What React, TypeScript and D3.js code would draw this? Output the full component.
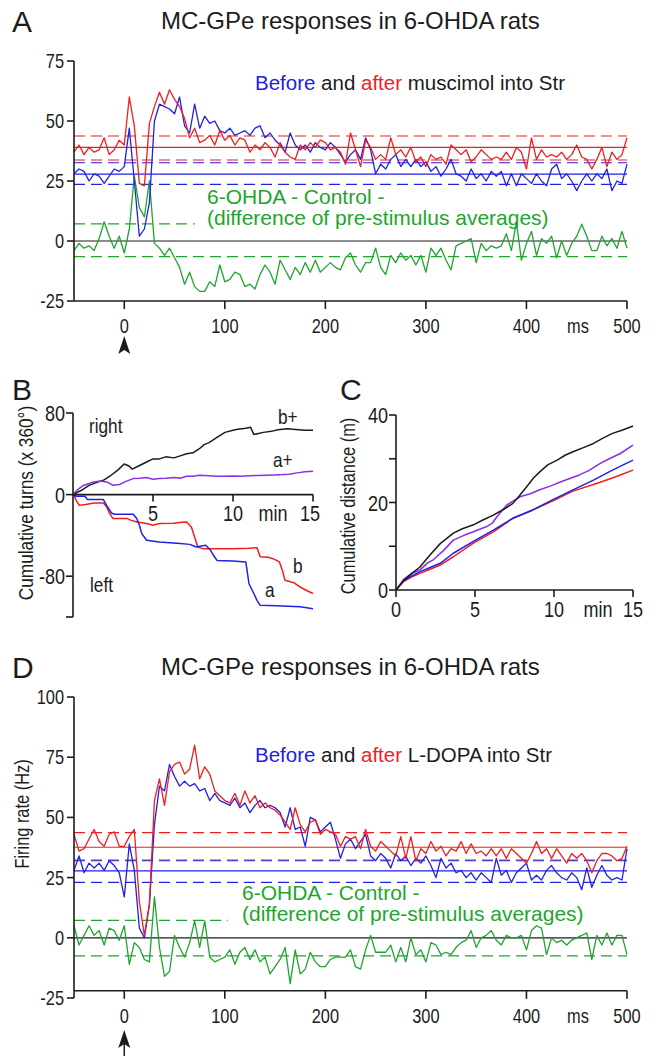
import React from "react";
import * as d3 from "d3";

const SANS = "'Liberation Sans',Arial,Helvetica,sans-serif";
const NARROW_X = 0.82; // Liberation Sans squeezed to a narrow face
const RED = "#f21d1d";
const BLUE = "#2020e6";
const GREEN = "#1ea52e";
const PURPLE = "#8a2fe6";
const INK = "#1c1c1c";

// PSTH bins: first bin at -50 ms, 5 ms wide
const T0 = -50;
const DT = 5;

// Panel A: before (blue) / after (red) muscimol, and difference (green)
const aRed = [
  37, 40, 36, 39, 37, 38, 43, 36, 38, 42,
  40, 60, 48, 24, 23, 49, 56, 62, 57, 63,
  59, 56, 51, 43, 47, 41, 42, 44, 40, 46,
  42, 44, 40, 43, 42, 37, 40, 38, 41, 39,
  35, 41, 37, 35, 34, 40, 38, 41, 39, 42,
  41, 38, 39, 37, 32, 45, 38, 31, 42, 39,
  34, 36, 34, 43, 36, 38, 35, 39, 33, 35,
  31, 36, 34, 35, 32, 40, 38, 36, 38, 33,
  35, 38, 36, 34, 35, 34, 37, 34, 39, 37,
  30, 43, 34, 38, 35, 36, 35, 37, 34, 36,
  40, 35, 34, 30, 34, 39, 31, 37, 34, 36, 43,
];
const aBlue = [
  28, 30, 29, 25, 28, 27, 24, 27, 30, 29,
  31, 47, 25, 2, 5, 16, 50, 57, 56, 55,
  53, 60, 48, 45, 57, 47, 52, 49, 50, 46,
  45, 47, 44, 45, 46, 44, 47, 48, 43, 45,
  42, 40, 37, 45, 40, 38, 40, 37, 41, 39,
  38, 41, 39, 36, 33, 36, 38, 34, 43, 38,
  28, 32, 30, 34, 36, 31, 34, 31, 34, 31,
  33, 29, 31, 27, 30, 34, 28, 27, 25, 30,
  26, 28, 25, 29, 27, 29, 23, 28, 23, 28,
  26, 24, 28, 25, 23, 30, 32, 26, 28, 25,
  21, 25, 28, 25, 28, 26, 30, 21, 25, 24, 32,
];
const aGreen = [
  -4, -1, -3, -2, -4, 1, 8, 2, -3, 2,
  -5, 5, 27, 14, 10, 25, -1, -3, -6, -3,
  -7, -11, -18, -13, -19, -21, -21, -17, -19, -10,
  -17, -16, -13, -14, -19, -18, -20, -14, -10, -13,
  -18, -8, -12, -16, -11, -14, -9, -13, -8, -13,
  -11, -9, -11, -12, -7, -5, -10, -13, -9, -9,
  -3, -11, -14, -6, -9, -5, -8, -6, -10, -6,
  -13, -3, -6, -3, -8, -12, -2, -1, 0, 1,
  -9, -1, -4, -2, -3, -2, 3, -4, 8, -8,
  -1, 4, -6, 1, -1, 2, -7, 0, -6, -1,
  2, 7, 2, -4, -4, 2, -2, 1, -3, 4, -3,
];
// [mean, upper, lower] pre-stimulus levels
const aRedLevels = [39, 43.75, 33.75];
const aBlueLevels = [27.9, 32.6, 23.6];
const aGreenLevels = [7.1, -6.5];

// Panel D: before (blue) / after (red) L-DOPA, and difference (green)
const dRed = [
  43, 36, 37, 41, 45, 40, 38, 43, 44, 38,
  38, 42, 45, 15, 1, 14, 57, 66, 55, 69,
  72, 73, 68, 70, 80, 66, 71, 68, 61, 59,
  57, 56, 60, 55, 61, 56, 59, 54, 56, 54,
  53, 51, 48, 45, 54, 47, 44, 48, 49, 43,
  45, 44, 43, 38, 42, 41, 42, 37, 45, 38,
  36, 40, 38, 36, 34, 42, 33, 42, 32, 37,
  35, 40, 36, 38, 34, 37, 36, 40, 35, 39,
  35, 36, 34, 37, 34, 37, 33, 37, 35, 33,
  31, 35, 40, 35, 37, 33, 37, 34, 31, 35,
  33, 35, 32, 27, 32, 35, 35, 34, 32, 33, 38,
];
const dBlue = [
  28, 34, 27, 31, 29, 31, 28, 32, 30, 27,
  17, 39, 28, 4, 0, 14, 47, 63, 61, 72,
  67, 63, 65, 63, 64, 61, 62, 57, 60, 57,
  56, 55, 58, 54, 56, 52, 55, 57, 54, 55,
  54, 52, 46, 54, 45, 46, 38, 50, 49, 44,
  46, 48, 41, 33, 39, 41, 37, 40, 43, 34,
  32, 35, 33, 29, 35, 32, 34, 30, 33, 31,
  34, 30, 25, 33, 29, 31, 27, 28, 25, 27,
  24, 27, 25, 23, 33, 26, 28, 23, 27, 29,
  31, 24, 26, 24, 28, 30, 27, 25, 24, 27,
  25, 20, 29, 21, 26, 30, 26, 24, 25, 24, 37,
];
const dGreen = [
  5, -3, 1, 5, 1, 3, -3, 4, 3, -1,
  5, -11, -2, -4, -9, -10, 17, -4, -16, -14,
  1, -4, -8, -2, 7, -4, 7, -8, -10, -9,
  -8, -5, -11, -6, -4, -9, -5, -10, -8, -15,
  -12, -9, -4, -19, -5, -15, -13, -6, -10, -12,
  -12, -9, -8, -8, -8, -5, -12, -13, -5, 1,
  -6, -6, -6, -3, -10, -4, -10, 0, -7, -5,
  -10, -2, -3, -7, -6, -7, -4, -2, -1, 3,
  -4, 0, 1, 3, -1, -3, 1, 0, 0, 1,
  -5, 3, 5, 4, -7, 0, -2, -1, -3, -1,
  0, 1, 2, -9, 1, -3, 2, -3, 1, 1, -7,
];
const dRedLevels = [37.6, 43.7, 32.3];
const dBlueLevels = [27.8, 32, 23];
const dGreenLevels = [7.2, -7.5];

const msTicks = [0, 100, 200, 300, 400, 500];
const aYTicks = [75, 50, 25, 0, -25];
const dYTicks = [100, 75, 50, 25, 0, -25];

// Panel B: cumulative turns [min, turns]
const turnsBPlus: [number, number][] = [
  [0, 0], [0.5, 4], [1, 9], [1.5, 12], [1.9, 14], [2.3, 18], [2.8, 24], [3.2, 30], [3.5, 28],
  [3.7, 25], [4.1, 28], [4.6, 32], [5, 35], [5.4, 35], [5.8, 37], [6.3, 36], [6.7, 38], [7.1, 40],
  [7.5, 41], [7.9, 45], [8.2, 49], [8.5, 51], [9, 56], [9.5, 61], [10, 63], [10.3, 64], [10.8, 65],
  [11.1, 66], [11.3, 59], [11.6, 60], [11.9, 61], [12.4, 62], [12.8, 63.5], [13.4, 64.5], [14.1, 63.5],
  [14.5, 63], [15, 63],
];
const turnsAPlus: [number, number][] = [
  [0, 0], [0.3, 5], [0.65, 9], [1.2, 12], [1.7, 13.4], [2.1, 12.4], [2.5, 9.2], [2.9, 9.8], [3.3, 13],
  [3.77, 15.7], [4.2, 16], [4.6, 16.7], [5, 15], [5.4, 15.7], [5.8, 16], [6.3, 16.7], [6.7, 16],
  [7.1, 18], [7.5, 18], [7.9, 19], [8.5, 18.5], [9, 18], [9.5, 18], [10, 18.3], [10.5, 18], [11, 18.6],
  [11.6, 18.7], [12.1, 19], [12.6, 19.3], [13.1, 19.6], [13.5, 20], [14, 21.3], [14.5, 22.5], [15, 23],
];
const turnsB: [number, number][] = [
  [0, 0], [0.1, -2], [0.2, -5.6], [0.4, -10.5], [0.8, -9.8], [1.3, -8.2], [1.9, -8.2], [2.1, -12],
  [2.3, -18.6], [2.5, -23.5], [3.4, -23.5], [3.6, -25], [4, -26.8], [4.6, -28.4], [5, -30], [5.4, -28.4],
  [6.3, -28], [6.8, -27], [7.1, -26.8], [7.4, -31.7], [7.6, -41.5], [7.8, -51.4], [8.1, -53], [9, -53],
  [10, -53], [11, -52.5], [11.5, -52], [11.7, -61], [12.2, -61.5], [12.5, -62.8], [12.9, -66], [13.1, -75],
  [13.25, -84], [13.8, -86.4], [14.2, -90.6], [14.6, -94], [15, -97],
];
const turnsA: [number, number][] = [
  [0, 0], [0.2, -1.6], [0.75, -1.6], [0.9, -4.9], [1.9, -4.9], [2.1, -10.5], [2.4, -18], [2.6, -19.3],
  [3.77, -19.3], [3.98, -23.5], [4.15, -30], [4.3, -38.3], [4.6, -44.8], [5.4, -46.4], [6.7, -48],
  [7.3, -48.8], [7.7, -51.4], [8.3, -49.7], [8.6, -54.6], [8.8, -60], [9, -64.5], [10, -65], [10.8, -66],
  [11, -87.4], [11.3, -97], [11.5, -103.7], [11.7, -108.6], [12.7, -109], [14.2, -110], [15, -112],
];

// Panel C: cumulative distance [min, m]
const distBPlus: [number, number][] = [
  [0, 0], [0.5, 2.2], [1, 3.8], [1.5, 5.2], [2.15, 8], [2.8, 10.6], [3.63, 13], [4.2, 14], [4.9, 14.9],
  [5.5, 16], [6.16, 17.1], [6.8, 18.4], [7.4, 19.8], [7.8, 21.5], [8.27, 23.6], [8.7, 25.6], [9.1, 27],
  [9.6, 28.6], [10.2, 29.7], [10.7, 30.8], [11.2, 31.6], [11.9, 32.6], [12.5, 33.5], [13.1, 34.7],
  [13.7, 35.8], [14.3, 36.5], [15, 37.5],
];
const distAPlus: [number, number][] = [
  [0, 0], [0.5, 2.5], [1, 3.8], [1.52, 4.6], [2, 6.2], [2.36, 6.9], [3, 9], [3.63, 11.4], [4.3, 12.5],
  [4.9, 13.3], [5.74, 14.5], [6.1, 15.3], [6.4, 16.8], [7, 19.4], [7.4, 20.3], [7.85, 21.3], [8.5, 22],
  [9.1, 22.9], [9.8, 23.8], [10.4, 24.7], [11, 25.5], [11.6, 26.3], [12.2, 27.3], [12.9, 28.9], [13.5, 30],
  [14.2, 31.2], [15, 33.1],
];
const distA: [number, number][] = [
  [0, 0], [0.5, 2.2], [1, 3.2], [1.52, 4.2], [2.2, 5.2], [2.8, 6.1], [3.63, 8.4], [4.9, 11.1], [6.16, 13.7],
  [7.4, 16.4], [8.66, 18.3], [9.9, 20.6], [11.2, 22.9], [12.5, 25.1], [13.7, 27.4], [15, 29.7],
];
const distB: [number, number][] = [
  [0, 0], [0.5, 2], [1, 3], [1.52, 3.8], [2.2, 4.8], [2.8, 5.7], [3.63, 7.6], [4.9, 10.7], [6.16, 13.3],
  [7.4, 16.4], [8.66, 18.3], [9.9, 20.3], [11.2, 22.6], [12.5, 24.1], [13.7, 25.6], [15, 27.4],
];
const minTicks = [0, 5, 10, 15];
const turnTicks = [80, 0, -80, -120];
const distTicks = [0, 10, 20, 30, 40];

type Scale = d3.ScaleLinear<number, number>;

// narrow (condensed) text, anchored at x,y
function NText({
  x,
  y,
  size,
  anchor = "start",
  rotate = false,
  fill = INK,
  children,
}: {
  x: number;
  y: number;
  size: number;
  anchor?: "start" | "middle" | "end";
  rotate?: boolean;
  fill?: string;
  children: React.ReactNode;
}) {
  return (
    <text
      transform={`translate(${x},${y})${rotate ? " rotate(-90)" : ""} scale(${NARROW_X},1)`}
      textAnchor={anchor}
      fontFamily={SANS}
      fontSize={size}
      fill={fill}
    >
      {children}
    </text>
  );
}

function Trace({ values, x, y, color }: { values: number[]; x: Scale; y: Scale; color: string }) {
  const line = d3
    .line<number>()
    .x((_, i) => x(T0 + i * DT))
    .y((v) => y(v));
  return <path d={line(values) ?? ""} fill="none" stroke={color} strokeWidth={1.3} strokeLinejoin="round" />;
}

function Arrow({ x, tip, end }: { x: number; tip: number; end: number }) {
  return (
    <g>
      <line x1={x} x2={x} y1={tip + 8} y2={end} stroke={INK} strokeWidth={1.5} />
      <path d={`M${x},${tip} L${x - 6},${tip + 18} L${x},${tip + 14} L${x + 6},${tip + 18} Z`} fill={INK} />
    </g>
  );
}

type TimeProps = {
  letter: string;
  top: number;
  drug: string;
  noteX: number;
  yDomain: [number, number];
  yRange: [number, number];
  axisValue: number;
  yTicks: number[];
  red: number[];
  blue: number[];
  green: number[];
  redLevels: number[];
  blueLevels: number[];
  greenLevels: number[];
  greenCut: number;
  legendY: number;
  noteY: number;
  labelY: number;
  arrowTip: number;
  arrowEnd: number;
};

function TimePanel(p: TimeProps) {
  const x = d3.scaleLinear().domain([-50, 500]).range([74, 627]);
  const y = d3.scaleLinear().domain(p.yDomain).range(p.yRange);
  const x0 = x(-50);
  const x1 = x(500);
  const axisY = y(p.axisValue);
  const level = (v: number, color: string, dashed: boolean, xEnd = x1) => (
    <line
      x1={x0}
      x2={xEnd}
      y1={y(v)}
      y2={y(v)}
      stroke={color}
      strokeWidth={1.2}
      strokeDasharray={dashed ? "11,6" : undefined}
    />
  );
  return (
    <g>
      <text x={12} y={p.top + 32} fontFamily={SANS} fontSize={30} fill={INK}>
        {p.letter}
      </text>
      <text x={161} y={p.top + 29} fontFamily={SANS} fontSize={24} fill={INK}>
        MC-GPe responses in 6-OHDA rats
      </text>

      {/* pre-stimulus levels */}
      {level(p.redLevels[0], RED, false)}
      {level(p.redLevels[1], RED, true)}
      {level(p.redLevels[2], RED, true)}
      {level(p.blueLevels[0], BLUE, false)}
      {level(p.blueLevels[1], BLUE, true)}
      {level(p.blueLevels[2], BLUE, true)}
      {level(p.greenLevels[0], GREEN, true, x(p.greenCut))}
      {level(p.greenLevels[1], GREEN, true)}
      <line x1={x0} x2={x1} y1={y(0)} y2={y(0)} stroke={INK} strokeWidth={1.2} />

      <Trace values={p.green} x={x} y={y} color={GREEN} />
      <Trace values={p.blue} x={x} y={y} color={BLUE} />
      <Trace values={p.red} x={x} y={y} color={RED} />

      {/* axes */}
      <line x1={x0} x2={x0} y1={y(p.yDomain[1])} y2={y(p.yDomain[0])} stroke={INK} strokeWidth={1.6} />
      <line x1={x0} x2={x1} y1={axisY} y2={axisY} stroke={INK} strokeWidth={1.6} />
      {p.yTicks.map((t) => (
        <g key={"y" + t}>
          <line x1={x0 - 7} x2={x0} y1={y(t)} y2={y(t)} stroke={INK} strokeWidth={1.6} />
          <NText x={x0 - 10} y={y(t) + 7} size={20} anchor="end">
            {t}
          </NText>
        </g>
      ))}
      {msTicks.map((t) => (
        <g key={"x" + t}>
          <line x1={x(t)} x2={x(t)} y1={axisY} y2={axisY + 8} stroke={INK} strokeWidth={1.6} />
          <NText x={x(t)} y={p.labelY} size={20} anchor="middle">
            {t}
          </NText>
        </g>
      ))}
      <NText x={578} y={p.labelY} size={20} anchor="middle">
        ms
      </NText>

      <text x={255} y={p.legendY} fontFamily={SANS} fontSize={20.5} fill={INK}>
        <tspan fill={BLUE}>Before</tspan> and <tspan fill={RED}>after</tspan> {p.drug} into Str
      </text>
      <text x={p.noteX} y={p.noteY} fontFamily={SANS} fontSize={21} fill={GREEN}>
        6-OHDA - Control -
      </text>
      <text x={p.noteX} y={p.noteY + 21} fontFamily={SANS} fontSize={21} fill={GREEN}>
        (difference of pre-stimulus averages)
      </text>

      <Arrow x={x(0)} tip={p.arrowTip} end={p.arrowEnd} />
    </g>
  );
}

function StepLine({ pts, x, y, color }: { pts: [number, number][]; x: Scale; y: Scale; color: string }) {
  const line = d3
    .line<[number, number]>()
    .x((d) => x(d[0]))
    .y((d) => y(d[1]));
  return <path d={line(pts) ?? ""} fill="none" stroke={color} strokeWidth={1.5} strokeLinejoin="round" />;
}

function PanelB() {
  const x = d3.scaleLinear().domain([0, 15]).range([73, 313]);
  const y = d3.scaleLinear().domain([-120, 80]).range([617, 413]);
  return (
    <g>
      <text x={12} y={400} fontFamily={SANS} fontSize={30} fill={INK}>
        B
      </text>
      <StepLine pts={turnsBPlus} x={x} y={y} color={INK} />
      <StepLine pts={turnsAPlus} x={x} y={y} color={PURPLE} />
      <StepLine pts={turnsB} x={x} y={y} color={RED} />
      <StepLine pts={turnsA} x={x} y={y} color={BLUE} />
      <line x1={x(0)} x2={x(0)} y1={y(80)} y2={y(-120)} stroke={INK} strokeWidth={1.6} />
      <line x1={x(0)} x2={x(15)} y1={y(0)} y2={y(0)} stroke={INK} strokeWidth={1.6} />
      {turnTicks.map((t) => (
        <g key={"b" + t}>
          <line x1={x(0) - 7} x2={x(0)} y1={y(t)} y2={y(t)} stroke={INK} strokeWidth={1.6} />
          {t !== -120 && (
            <NText x={x(0) - 8} y={y(t) + 8} size={22} anchor="end">
              {t}
            </NText>
          )}
        </g>
      ))}
      {minTicks.slice(1).map((t) => (
        <g key={"bx" + t}>
          <line x1={x(t)} x2={x(t)} y1={y(0)} y2={y(0) + 7} stroke={INK} strokeWidth={1.6} />
          <NText x={x(t) - (t === 15 ? 3 : 0)} y={521} size={22} anchor="middle">
            {t}
          </NText>
        </g>
      ))}
      <NText x={273} y={521} size={22} anchor="middle">
        min
      </NText>
      <NText x={33} y={503} size={21} anchor="middle" rotate>
        Cumulative turns (x 360°)
      </NText>
      <NText x={89} y={433} size={21}>right</NText>
      <NText x={90} y={592} size={21}>left</NText>
      <NText x={278} y={424} size={21}>b+</NText>
      <NText x={273} y={467} size={21}>a+</NText>
      <NText x={293} y={573} size={21}>b</NText>
      <NText x={265} y={597} size={21}>a</NText>
    </g>
  );
}

function PanelC() {
  const x = d3.scaleLinear().domain([0, 15]).range([396, 633]);
  const y = d3.scaleLinear().domain([0, 40]).range([590, 415]);
  return (
    <g>
      <text x={340} y={400} fontFamily={SANS} fontSize={30} fill={INK}>
        C
      </text>
      <StepLine pts={distB} x={x} y={y} color={RED} />
      <StepLine pts={distA} x={x} y={y} color={BLUE} />
      <StepLine pts={distAPlus} x={x} y={y} color={PURPLE} />
      <StepLine pts={distBPlus} x={x} y={y} color={INK} />
      <line x1={x(0)} x2={x(0)} y1={y(40)} y2={y(0)} stroke={INK} strokeWidth={1.6} />
      <line x1={x(0)} x2={x(15)} y1={y(0)} y2={y(0)} stroke={INK} strokeWidth={1.6} />
      {distTicks.map((t) => (
        <g key={"c" + t}>
          <line x1={x(0) - 7} x2={x(0)} y1={y(t)} y2={y(t)} stroke={INK} strokeWidth={1.6} />
          {t % 20 === 0 && (
            <NText x={x(0) - 8} y={y(t) + 8} size={22} anchor="end">
              {t}
            </NText>
          )}
        </g>
      ))}
      {minTicks.map((t) => (
        <g key={"cx" + t}>
          <line x1={x(t)} x2={x(t)} y1={y(0)} y2={y(0) + 7} stroke={INK} strokeWidth={1.6} />
          <NText x={x(t)} y={617} size={22} anchor="middle">
            {t}
          </NText>
        </g>
      ))}
      <NText x={598} y={617} size={22} anchor="middle">
        min
      </NText>
      <NText x={355} y={506} size={20} anchor="middle" rotate>
        Cumulative distance (m)
      </NText>
    </g>
  );
}

export default function App() {
  return (
    <svg
      width={656}
      height={1056}
      viewBox="0 0 656 1056"
      style={{ position: "absolute", left: 0, top: 0, background: "#fff" }}
    >
      <rect width={656} height={1056} fill="#fff" />
      <TimePanel
        letter="A"
        top={0}
        drug="muscimol"
        noteX={207}
        yDomain={[-25, 75]}
        yRange={[301, 61]}
        axisValue={-25}
        yTicks={aYTicks}
        red={aRed}
        blue={aBlue}
        green={aGreen}
        redLevels={aRedLevels}
        blueLevels={aBlueLevels}
        greenLevels={aGreenLevels}
        greenCut={70}
        legendY={90}
        noteY={204}
        labelY={333}
        arrowTip={336}
        arrowEnd={350}
      />
      <PanelB />
      <PanelC />
      <TimePanel
        letter="D"
        top={646}
        drug="L-DOPA"
        noteX={242}
        yDomain={[-25, 100]}
        yRange={[998, 697]}
        axisValue={-22}
        yTicks={dYTicks}
        red={dRed}
        blue={dBlue}
        green={dGreen}
        redLevels={dRedLevels}
        blueLevels={dBlueLevels}
        greenLevels={dGreenLevels}
        greenCut={103}
        legendY={762}
        noteY={900}
        labelY={1023}
        arrowTip={1030}
        arrowEnd={1056}
      />
      <NText x={29} y={814} size={20} anchor="middle" rotate>
        Firing rate (Hz)
      </NText>
    </svg>
  );
}
